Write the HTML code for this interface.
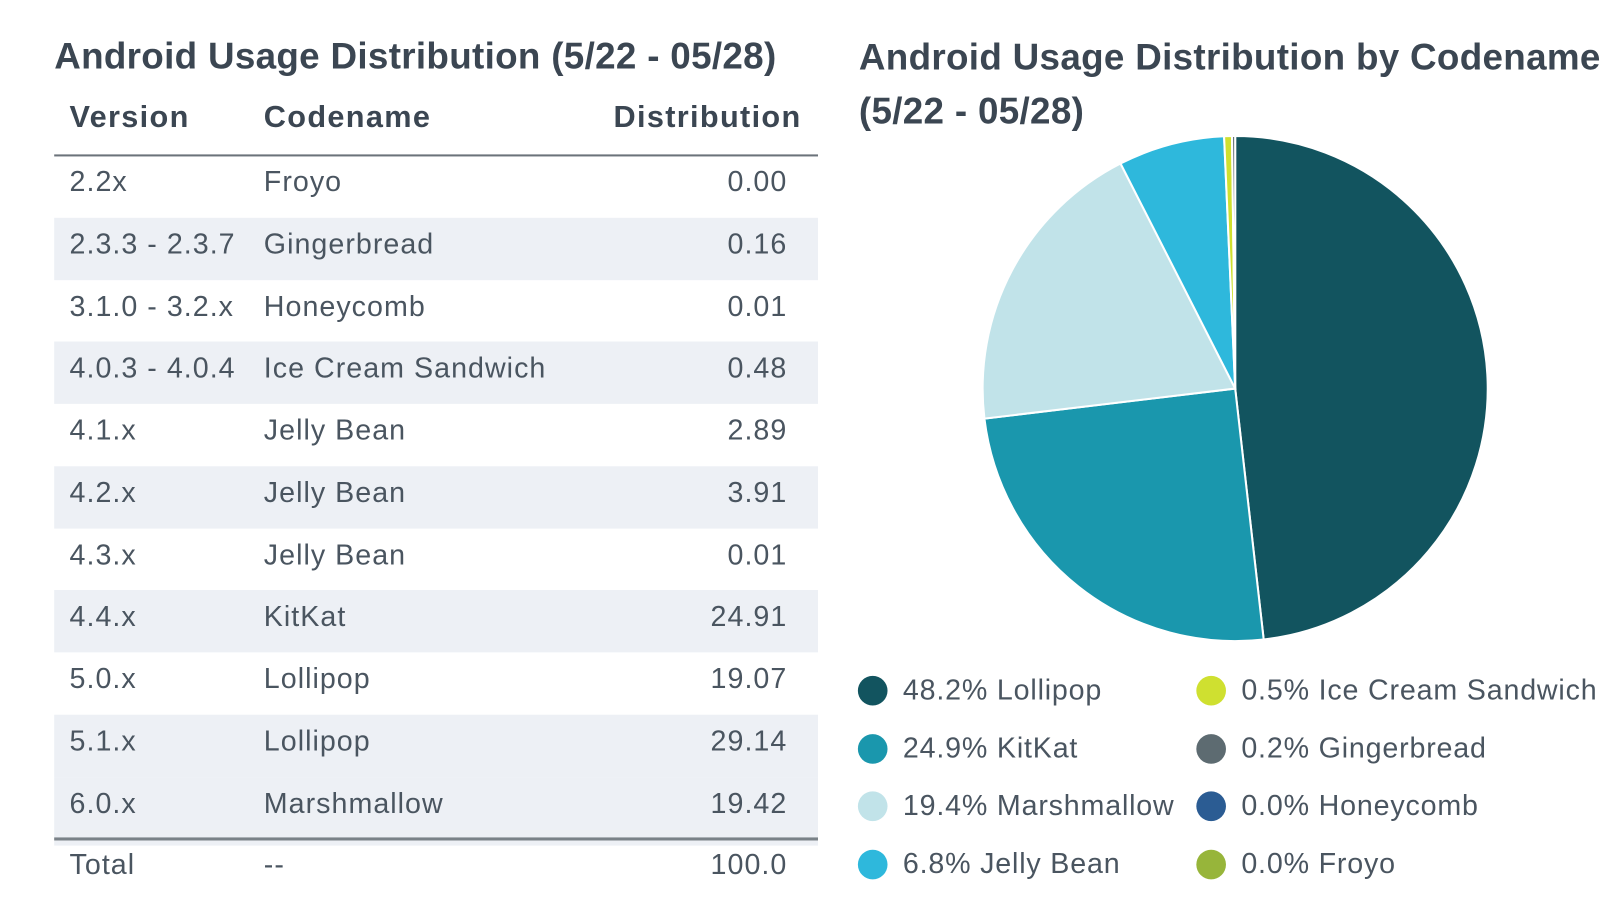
<!DOCTYPE html>
<html><head><meta charset="utf-8"><style>
body{margin:0;width:1600px;height:900px;background:#fff;font-family:"Liberation Sans",sans-serif;position:relative;overflow:hidden;color:#4a5560}
#wrap{position:absolute;left:0;top:0;width:1600px;height:900px;transform:scale(1.0225);transform-origin:0 0}
.t{position:absolute;font-weight:bold;color:#3b4652;font-size:36px;letter-spacing:0.3px;white-space:nowrap}
.h{position:absolute;font-weight:bold;color:#3b4652;font-size:30px;letter-spacing:1.3px;top:97px;line-height:36px}
.row{position:absolute;left:53px;width:747px;height:61px;font-size:28px;letter-spacing:1px;line-height:51px}
.row span{position:absolute}
.lg{position:absolute;font-size:28px;letter-spacing:0.8px;white-space:nowrap;line-height:30px}
.lg i{position:absolute;left:-44px;top:1px;width:29px;height:29px;border-radius:50%}
</style></head><body>
<div id="wrap">
<div class="t" style="left:53px;top:35px;line-height:40px">Android Usage Distribution (5/22 - 05/28)</div>
<div class="t" style="left:840px;top:29px;line-height:53px">Android Usage Distribution by Codename<br>(5/22 - 05/28)</div>
<div class="h" style="left:68px">Version</div>
<div class="h" style="left:258px">Codename</div>
<div class="h" style="left:600px">Distribution</div>
<div style="position:absolute;left:53px;top:151px;width:747px;height:2px;background:#6b737a"></div>
<div id="rows"></div>
<div style="position:absolute;left:53px;top:819px;width:747px;height:3px;background:#7a8288"></div>
<div class="row" style="top:817px;line-height:57px"><span style="left:15px">Total</span><span style="left:205px">--</span><span style="right:30px">100.0</span></div>
<svg id="pie" width="1600" height="900" style="position:absolute;left:0;top:0"></svg>
<div id="legend"></div>
</div>
<script>
const versions=["2.2x","2.3.3 - 2.3.7","3.1.0 - 3.2.x","4.0.3 - 4.0.4","4.1.x","4.2.x","4.3.x","4.4.x","5.0.x","5.1.x","6.0.x"];
const codenames=["Froyo","Gingerbread","Honeycomb","Ice Cream Sandwich","Jelly Bean","Jelly Bean","Jelly Bean","KitKat","Lollipop","Lollipop","Marshmallow"];
const dist=["0.00","0.16","0.01","0.48","2.89","3.91","0.01","24.91","19.07","29.14","19.42"];
const pieLabels=["Lollipop","KitKat","Marshmallow","Jelly Bean","Ice Cream Sandwich","Gingerbread","Honeycomb","Froyo"];
const pieValues=[48.2,24.9,19.4,6.8,0.5,0.2,0.0,0.0];
const pieColors=["#12545f","#1a97ad","#c1e3e9","#2eb8dc","#cfe030","#5d6b71","#2b5c93","#97b53a"];
const rc=document.getElementById('rows');
versions.forEach((v,i)=>{
 const d=document.createElement('div');d.className='row';
 
 
 d.style.top=(152+i*60.75)+'px';
 if(i%2||i===versions.length-1)d.style.background='#edf0f5';
 if(i===versions.length-1)d.style.height='67px';
 d.innerHTML=`<span style="left:15px">${v}</span><span style="left:205px">${codenames[i]}</span><span style="right:30px">${dist[i]}</span>`;
 rc.appendChild(d);
});
const svg=document.getElementById('pie');const cx=1208,cy=380,r=247;
const tot=pieValues.reduce((a,b)=>a+b,0);let a0=0;
pieValues.forEach((v,i)=>{
 if(v<=0)return;const a1=a0+v/tot*2*Math.PI;
 const p=document.createElementNS('http://www.w3.org/2000/svg','path');
 const x0=cx+r*Math.sin(a0),y0=cy-r*Math.cos(a0),x1=cx+r*Math.sin(a1),y1=cy-r*Math.cos(a1);
 p.setAttribute('d',`M${cx},${cy}L${x0},${y0}A${r},${r} 0 ${a1-a0>Math.PI?1:0} 1 ${x1},${y1}Z`);
 p.setAttribute('fill',pieColors[i]);p.setAttribute('stroke','#fff');p.setAttribute('stroke-width','2');
 
 
 svg.appendChild(p);a0=a1;
});
const lg=document.getElementById('legend');
pieLabels.forEach((l,i)=>{
 const d=document.createElement('div');d.className='lg';
 
 
 const col=Math.floor(i/4),row=i%4;
 d.style.left=(col?1214:883)+'px';d.style.top=(660+row*56.5)+'px';
 d.innerHTML=`<i style="background:${pieColors[i]}"></i>${pieValues[i].toFixed(1)}% ${l}`;
 lg.appendChild(d);
});
</script>
</body></html>
